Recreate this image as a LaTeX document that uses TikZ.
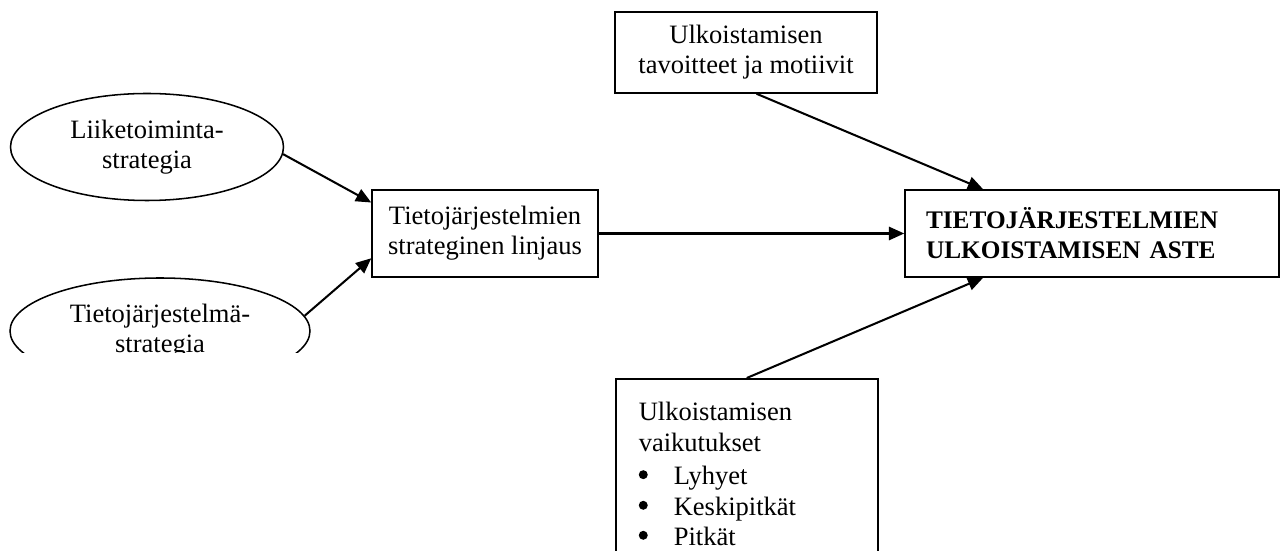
\documentclass[tikz,border=0pt]{standalone}
\usepackage{fontspec}
\setmainfont{Liberation Serif}
\usetikzlibrary{arrows.meta,calc,shapes.geometric}
% round list marker drawn as a small filled disc
\newcommand{\itemdot}{\makebox[17.15pt][l]{\tikz[baseline=0pt]\fill (0pt,4.9pt) circle[radius=2.2pt];}}
\begin{document}
\begin{tikzpicture}[x=0.49pt,y=-0.49pt,
  every node/.style={font=\fontsize{13}{14.7}\selectfont},
  frame/.style={draw,line width=0.75pt,rectangle,inner sep=0pt,align=center},
  oval/.style={draw,line width=0.75pt,ellipse,inner sep=0pt,align=center},
  link/.style={line width=1pt,-{Triangle[length=7.5pt,width=6.5pt]}}]
\useasboundingbox (0,0) rectangle (1280,551);
\clip (0,0) rectangle (1280,551);

% strategy ellipses
\node[oval,minimum width=273*0.49pt,minimum height=107*0.49pt] (lt) at (147,147)
  {Liiketoiminta-\\strategia};
\begin{scope}
  \clip (0,260) rectangle (400,353);
  \node[oval,minimum width=300*0.49pt,minimum height=106*0.49pt] (tj) at (160,331)
    {Tietojärjestelmä-\\strategia};
\end{scope}

% central boxes
\node[frame,minimum width=226*0.49pt,minimum height=87*0.49pt] (mid) at (485,233.5)
  {Tietojärjestelmien\\strateginen linjaus};
\node[frame,minimum width=262*0.49pt,minimum height=81*0.49pt] (goal) at (746,52.5)
  {Ulkoistamisen\\tavoitteet ja motiivit};
\node[frame,align=left,text width=332*0.49pt,inner xsep=21*0.49pt,
      minimum height=87*0.49pt] (aste) at (1092,233.5)
  {\bfseries\fontsize{12.4}{14.7}\selectfont TIETOJÄRJESTELMIEN\\ULKOISTAMISEN ASTE};

% effects box, running past the lower edge
\node[frame,anchor=north west,align=left,text width=216*0.49pt,
      inner xsep=23*0.49pt,inner ysep=11.4*0.49pt,minimum height=190*0.49pt] (eff) at (615,378)
  {\fontsize{13}{15}\selectfont Ulkoistamisen\\vaikutukset\\[1.5pt]
   \itemdot Lyhyet\\
   \itemdot Keskipitkät\\
   \itemdot Pitkät};

% connectors
\draw[link] (lt.-3) -- ($(mid.north west)!0.15!(mid.south west)$);
\draw[link] (tj.6) -- ($(mid.north west)!0.78!(mid.south west)$);
\draw[link] (mid.east) -- (aste.west);
\draw[link] ($(goal.south west)!0.54!(goal.south east)$) -- ($(aste.north west)!0.21!(aste.north east)$);
\draw[link] (eff.north) -- ($(aste.south west)!0.21!(aste.south east)$);
\end{tikzpicture}
\end{document}
